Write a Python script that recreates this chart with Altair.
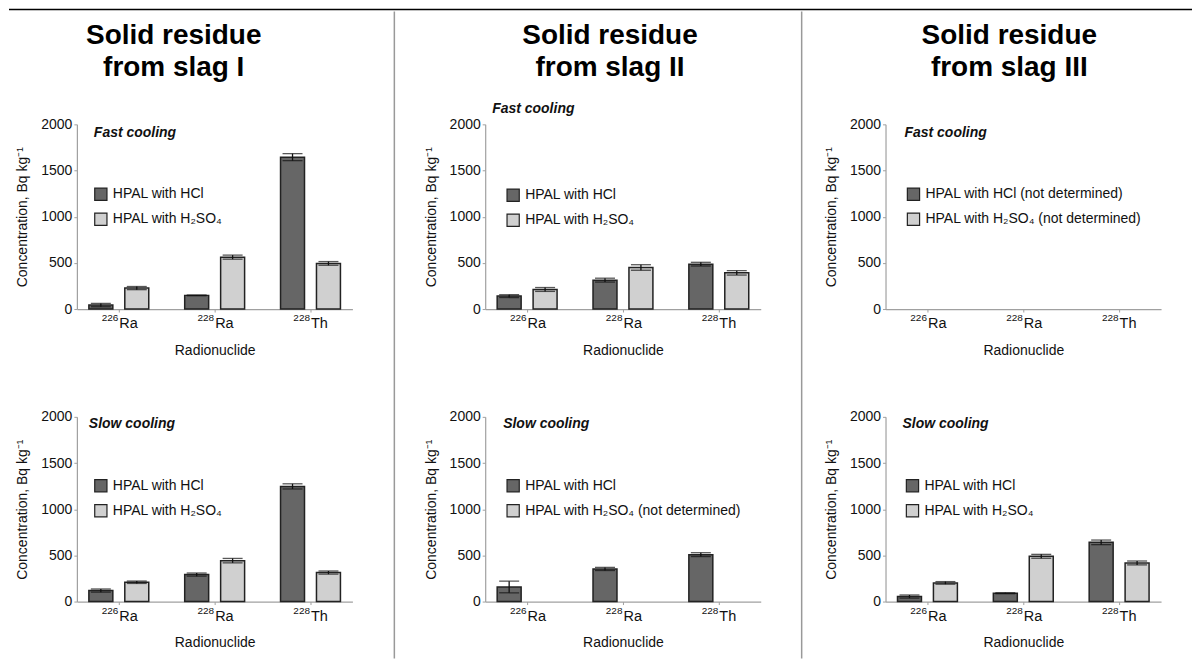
import altair as alt
import pandas as pd

NUCLIDES = ["226Ra", "228Ra", "228Th"]
NUCLIDE_MASS = ["226", "228", "228"]
NUCLIDE_ELEMENT = ["Ra", "Ra", "Th"]
SERIES = ["HCl", "H2SO4"]
COLORS = ["#666666", "#d0d0d0"]

# Solid residue from slag I
I_FAST_HCL = [43, 148, 1645]
I_FAST_HCL_ERR = [18, 4, 38]
I_FAST_H2SO4 = [227, 562, 494]
I_FAST_H2SO4_ERR = [17, 22, 20]
I_SLOW_HCL = [119, 292, 1247]
I_SLOW_HCL_ERR = [17, 17, 28]
I_SLOW_H2SO4 = [209, 443, 314]
I_SLOW_H2SO4_ERR = [13, 24, 17]

# Solid residue from slag II
II_FAST_HCL = [140, 313, 486]
II_FAST_HCL_ERR = [15, 21, 20]
II_FAST_H2SO4 = [212, 450, 392]
II_FAST_H2SO4_ERR = [21, 30, 24]
II_SLOW_HCL = [158, 353, 508]
II_SLOW_HCL_ERR = [63, 17, 21]
II_SLOW_H2SO4 = [None, None, None]  # not determined
II_SLOW_H2SO4_ERR = [None, None, None]

# Solid residue from slag III
III_FAST_HCL = [None, None, None]  # not determined
III_FAST_HCL_ERR = [None, None, None]
III_FAST_H2SO4 = [None, None, None]  # not determined
III_FAST_H2SO4_ERR = [None, None, None]
III_SLOW_HCL = [54, 90, 641]
III_SLOW_HCL_ERR = [17, 5, 25]
III_SLOW_H2SO4 = [202, 490, 418]
III_SLOW_H2SO4_ERR = [14, 21, 21]

TITLES = [["Solid residue", "from slag I"], ["Solid residue", "from slag II"],
          ["Solid residue", "from slag III"]]
Y_TITLE = "Concentration, Bq kg⁻¹"
X_TITLE = "Radionuclide"
FONT = "Liberation Sans"
W, H = 276, 185

LABEL_DF = pd.DataFrame({"nuclide": NUCLIDES, "mass": NUCLIDE_MASS, "el": NUCLIDE_ELEMENT})


def make_df(hcl, hcl_err, h2, h2_err):
    rows = []
    for s, vals, errs in (("HCl", hcl, hcl_err), ("H2SO4", h2, h2_err)):
        for n, v, e in zip(NUCLIDES, vals, errs):
            if v is None:
                continue
            rows.append({"nuclide": n, "series": s, "value": v, "lo": v - e, "hi": v + e})
    return pd.DataFrame(rows, columns=["nuclide", "series", "value", "lo", "hi"])


def panel(hcl, hcl_err, h2, h2_err, cooling, cool_xy, legend_xy, labels,
          title=None, title_x=0, extras=()):
    df = make_df(hcl, hcl_err, h2, h2_err)
    base = alt.Chart(df)
    xenc = alt.X("nuclide:N", sort=NUCLIDES, title=X_TITLE,
                 scale=alt.Scale(domain=NUCLIDES, paddingInner=0.375, paddingOuter=0.125),
                 axis=alt.Axis(labels=False, titlePadding=31))
    xo = alt.XOffset("series:N", sort=SERIES,
                     scale=alt.Scale(domain=SERIES, paddingInner=0.333, paddingOuter=0))
    yscale = alt.Scale(domain=[0, 2000])
    lab = "datum.value === 'HCl' ? '%s' : '%s'" % (labels[0], labels[1])
    bars = base.mark_bar(stroke="#222222", strokeWidth=1.5).encode(
        x=xenc, xOffset=xo,
        y=alt.Y("value:Q", scale=yscale, title=Y_TITLE,
                axis=alt.Axis(values=[0, 500, 1000, 1500, 2000], format="d")),
        color=alt.Color("series:N", scale=alt.Scale(domain=SERIES, range=COLORS),
                        legend=alt.Legend(orient="none", legendX=legend_xy[0], legendY=legend_xy[1],
                                          title=None, labelExpr=lab, symbolType="square",
                                          symbolSize=150, symbolStrokeColor="#222222",
                                          symbolStrokeWidth=1.2, labelFont=FONT, labelFontSize=14,
                                          labelColor="#111111", rowPadding=7, labelOffset=5,
                                          labelLimit=400)),
    )
    rule = base.mark_rule(color="#111111", strokeWidth=1.3).encode(
        x=xenc, xOffset=xo, y=alt.Y("lo:Q", scale=yscale, title=Y_TITLE), y2="hi:Q")
    cap_hi = base.mark_tick(color="#111111", thickness=1.3, size=20).encode(
        x=xenc, xOffset=xo, y=alt.Y("hi:Q", scale=yscale, title=Y_TITLE))
    cap_lo = base.mark_tick(color="#111111", thickness=1.3, size=20).encode(
        x=xenc, xOffset=xo, y=alt.Y("lo:Q", scale=yscale, title=Y_TITLE))
    # tick labels with a real superscript mass number
    lbl = alt.Chart(LABEL_DF)
    mass = lbl.mark_text(font=FONT, fontSize=10, align="right", baseline="alphabetic",
                         color="#111111", dx=-0.5).encode(x=xenc, text="mass:N", y=alt.value(H + 12))
    elem = lbl.mark_text(font=FONT, fontSize=14.5, align="left", baseline="alphabetic",
                         color="#111111", dx=0.5).encode(x=xenc, text="el:N", y=alt.value(H + 19))
    cool = alt.Chart(pd.DataFrame({"t": [cooling]})).mark_text(
        font=FONT, fontSize=14, fontWeight="bold", fontStyle="italic", align="left",
        baseline="middle", color="#111111").encode(
        text="t:N", x=alt.value(cool_xy[0]), y=alt.value(cool_xy[1]))
    layers = [bars, rule, cap_hi, cap_lo, mass, elem, cool]
    if title is not None:
        for line, yy in zip(title, (-80, -48)):
            layers.append(alt.Chart(pd.DataFrame({"t": [line]})).mark_text(
                font=FONT, fontSize=28, fontWeight="bold", align="center",
                baseline="alphabetic", color="#000000").encode(
                text="t:N", x=alt.value(title_x), y=alt.value(yy)))
    for ex in extras:
        layers.append(ex)
    return alt.layer(*layers).properties(width=W, height=H)


one = pd.DataFrame({"d": [0]})
top_rule = alt.Chart(one).mark_rule(color="#000000", strokeWidth=1.5).encode(
    x=alt.value(-68), x2=alt.value(1117), y=alt.value(-115))
sep1 = alt.Chart(one).mark_rule(color="#999999", strokeWidth=1.5).encode(
    x=alt.value(-91), y=alt.value(-113), y2=alt.value(535))
sep2 = alt.Chart(one).mark_rule(color="#999999", strokeWidth=1.5).encode(
    x=alt.value(-84), y=alt.value(-113), y2=alt.value(535))

HCL = "HPAL with HCl"
H2 = "HPAL with H₂SO₄"
ND = " (not determined)"

p1 = panel(I_FAST_HCL, I_FAST_HCL_ERR, I_FAST_H2SO4, I_FAST_H2SO4_ERR, "Fast cooling",
           (17, 9), (17, 63), (HCL, H2), title=TITLES[0], title_x=97, extras=[top_rule])
p2 = panel(I_SLOW_HCL, I_SLOW_HCL_ERR, I_SLOW_H2SO4, I_SLOW_H2SO4_ERR, "Slow cooling",
           (12, 7), (17, 62), (HCL, H2))
p3 = panel(II_FAST_HCL, II_FAST_HCL_ERR, II_FAST_H2SO4, II_FAST_H2SO4_ERR, "Fast cooling",
           (7, -15), (21, 64), (HCL, H2), title=TITLES[1], title_x=125, extras=[sep1])
p4 = panel(II_SLOW_HCL, II_SLOW_HCL_ERR, II_SLOW_H2SO4, II_SLOW_H2SO4_ERR, "Slow cooling",
           (18, 7), (21, 62), (HCL, H2 + ND))
p5 = panel(III_FAST_HCL, III_FAST_HCL_ERR, III_FAST_H2SO4, III_FAST_H2SO4_ERR, "Fast cooling",
           (19, 9), (21, 63), (HCL + ND, H2 + ND), title=TITLES[2], title_x=124, extras=[sep2])
p6 = panel(III_SLOW_HCL, III_SLOW_HCL_ERR, III_SLOW_H2SO4, III_SLOW_H2SO4_ERR, "Slow cooling",
           (17, 7), (20, 62), (HCL, H2))


def col(a, b):
    return alt.vconcat(a, b, spacing=108, bounds="flush").resolve_scale(
        color="independent").resolve_legend(color="independent")


# nested flush concats have no own width, so spacing is measured between left edges
right = alt.hconcat(col(p3, p4), col(p5, p6), spacing=401, bounds="flush").resolve_scale(
    color="independent").resolve_legend(color="independent")
chart = alt.hconcat(col(p1, p2), right, spacing=409, bounds="flush").resolve_scale(
    color="independent").resolve_legend(color="independent").properties(
    padding=0, background="white"
).configure_view(stroke=None).configure_axis(
    grid=False, domainColor="#a0a0a0", domainWidth=1.2, tickColor="#a0a0a0", tickSize=3,
    labelFont=FONT, titleFont=FONT, labelFontSize=14, titleFontSize=14,
    labelColor="#111111", titleColor="#111111", titleFontWeight="normal"
).configure_axisY(labelPadding=2, titlePadding=11)

chart.save("out.html", embed_options={"renderer": "svg", "actions": False})
